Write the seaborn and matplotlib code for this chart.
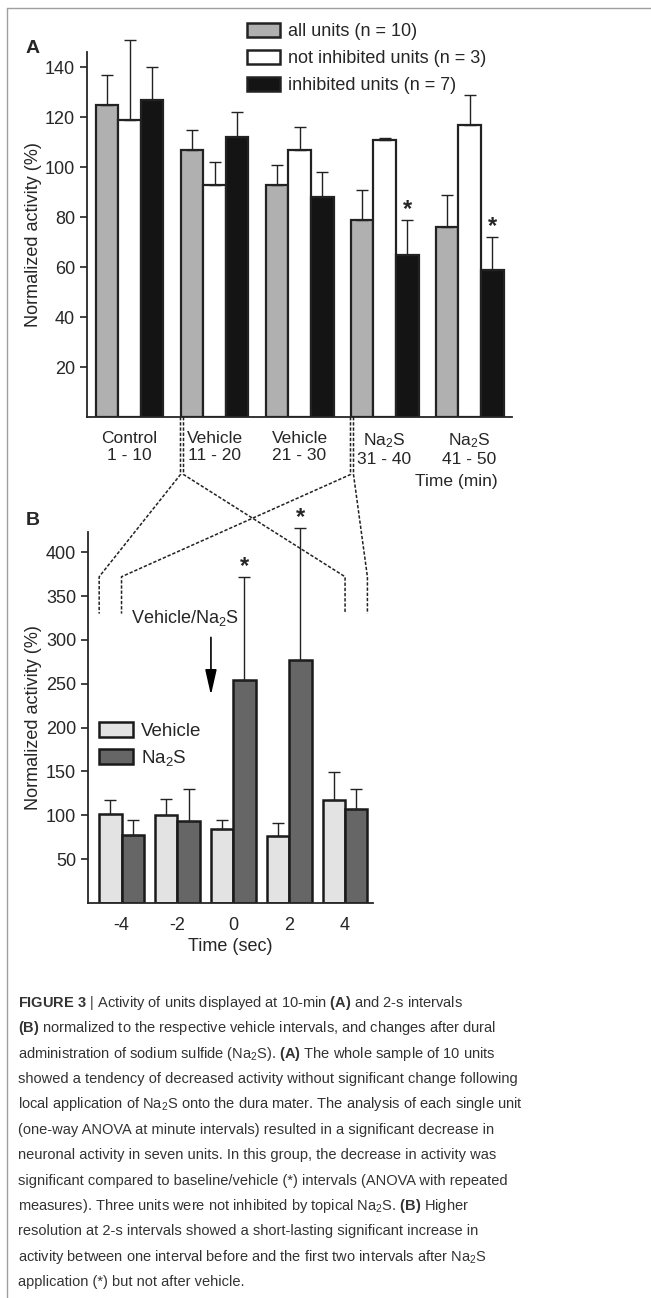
import numpy as np
import pandas as pd
import matplotlib
matplotlib.use("Agg")
import matplotlib.pyplot as plt
from matplotlib.lines import Line2D
from matplotlib.patches import Patch
import seaborn as sns

# =========================
# Panel A data (10-min intervals)
# =========================
periods = ["Control\n1 - 10", "Vehicle\n11 - 20", "Vehicle\n21 - 30",
           "Na$_2$S\n31 - 40", "Na$_2$S\n41 - 50"]
groups_a = ["all units (n = 10)", "not inhibited units (n = 3)", "inhibited units (n = 7)"]
all_units = [125, 107, 93, 79, 76]
all_units_err = [12, 8, 8, 12, 13]
not_inhib = [119, 93, 107, 111, 117]
not_inhib_err = [32, 9, 9, 0.6, 12]
inhib = [127, 112, 88, 65, 59]
inhib_err = [13, 10, 10, 14, 13]
sig_a = [False, False, False, True, True]   # marked on inhibited units

# =========================
# Panel B data (2-s intervals)
# =========================
times = ["-4", "-2", "0", "2", "4"]
groups_b = ["Vehicle", "Na$_2$S"]
vehicle = [101, 100, 84, 76, 117]
vehicle_err = [16, 19, 11, 15, 32]
na2s = [77, 94, 254, 277, 107]
na2s_err = [18, 36, 118, 151, 23]
sig_b = [False, False, True, True, False]   # marked on Na2S

caption_lines = [
    r"$\bf{FIGURE\ 3}$ | Activity of units displayed at 10-min $\bf{(A)}$ and 2-s intervals",
    r"$\bf{(B)}$ normalized to the respective vehicle intervals, and changes after dural",
    r"administration of sodium sulfide (Na$_2$S). $\bf{(A)}$ The whole sample of 10 units",
    "showed a tendency of decreased activity without significant change following",
    r"local application of Na$_2$S onto the dura mater. The analysis of each single unit",
    "(one-way ANOVA at minute intervals) resulted in a significant decrease in",
    "neuronal activity in seven units. In this group, the decrease in activity was",
    "significant compared to baseline/vehicle (*) intervals (ANOVA with repeated",
    r"measures). Three units were not inhibited by topical Na$_2$S. $\bf{(B)}$ Higher",
    "resolution at 2-s intervals showed a short-lasting significant increase in",
    r"activity between one interval before and the first two intervals after Na$_2$S",
    "application (*) but not after vehicle.",
]

# =========================
# Style
# =========================
sns.set_theme(style="ticks")
font = "Liberation Sans"
plt.rcParams["font.family"] = [font, "DejaVu Sans"]
plt.rcParams["mathtext.fontset"] = "custom"
plt.rcParams["mathtext.rm"] = font
plt.rcParams["mathtext.it"] = font + ":italic"
plt.rcParams["mathtext.bf"] = font + ":bold"
plt.rcParams["mathtext.default"] = "regular"
plt.rcParams["axes.linewidth"] = 1.3

W, H = 651, 1298
fig = plt.figure(figsize=(W / 100, H / 100), dpi=100)
axA = fig.add_axes([87 / W, 1 - 417 / H, 425 / W, 365 / H])
axB = fig.add_axes([88 / W, 1 - 903 / H, 285 / W, 371 / H])

FS = 12.5

# =========================
# Panel A
# =========================
df_a = pd.DataFrame({
    "period": periods * 3,
    "group": np.repeat(groups_a, len(periods)),
    "value": all_units + not_inhib + inhib,
})
colors_a = ["#b0b0b0", "#ffffff", "#141414"]
sns.barplot(data=df_a, x="period", y="value", hue="group", hue_order=groups_a,
            palette=colors_a, saturation=1, errorbar=None, width=0.8,
            edgecolor="#222222", linewidth=1.6, legend=False, ax=axA)


def add_errors(ax, containers, values, errors):
    for cont, vals, errs in zip(containers, values, errors):
        xs = [p.get_x() + p.get_width() / 2 for p in cont]
        eb = ax.errorbar(xs, vals, yerr=[np.zeros(len(vals)), errs], fmt="none",
                         ecolor="#222222", elinewidth=1.0, capsize=4, capthick=1.0, zorder=1)
        for art in list(eb.lines[1]) + list(eb.lines[2]):
            art.set_clip_on(False)


def add_stars(ax, cont, values, errors, flags):
    for p, v, e, s in zip(cont, values, errors, flags):
        if s:
            ax.annotate("*", (p.get_x() + p.get_width() / 2, v + e), xytext=(0, -1),
                        textcoords="offset points", ha="center", va="bottom",
                        fontsize=17, fontweight="bold", annotation_clip=False)


add_errors(axA, axA.containers, [all_units, not_inhib, inhib],
           [all_units_err, not_inhib_err, inhib_err])
add_stars(axA, axA.containers[2], inhib, inhib_err, sig_a)

axA.set_xlim(-0.5, 4.5)
axA.set_ylim(0, 146)
axA.set_yticks([20, 40, 60, 80, 100, 120, 140])
axA.set_xlabel("")
axA.set_ylabel("Normalized activity (%)", fontsize=FS + 0.5, labelpad=2)
axA.tick_params(axis="y", labelsize=FS + 0.5, length=5, width=1.2, color="#222222")
axA.tick_params(axis="x", labelsize=FS, length=0, pad=10)
sns.despine(ax=axA)
axA.text((498 - 87) / 425, -0.178, "Time (min)", transform=axA.transAxes,
         ha="right", va="center", fontsize=FS)
axA.text(-0.127, 1.01, "A", transform=axA.transAxes, fontsize=14,
         fontweight="bold", ha="center", va="center")

handles_a = [Patch(facecolor=c, edgecolor="#222222", linewidth=1.8) for c in colors_a]
axA.legend(handles_a, groups_a, loc="upper left", bbox_to_anchor=(247 / W, 1 - 23 / H),
           bbox_transform=fig.transFigure, frameon=False, fontsize=FS + 0.5,
           borderpad=0, borderaxespad=0, handlelength=1.85, handleheight=0.8,
           handletextpad=0.4, labelspacing=0.55)

# =========================
# Panel B
# =========================
df_b = pd.DataFrame({
    "time": times * 2,
    "group": np.repeat(groups_b, len(times)),
    "value": vehicle + na2s,
})
colors_b = ["#e3e3e3", "#666666"]
sns.barplot(data=df_b, x="time", y="value", hue="group", hue_order=groups_b,
            palette=colors_b, saturation=1, errorbar=None, width=0.8,
            edgecolor="#1a1a1a", linewidth=1.8, legend=False, ax=axB)

add_errors(axB, axB.containers, [vehicle, na2s], [vehicle_err, na2s_err])
add_stars(axB, axB.containers[1], na2s, na2s_err, sig_b)

axB.set_xlim(-0.6, 4.5)
axB.set_ylim(0, 423)
axB.set_yticks([50, 100, 150, 200, 250, 300, 350, 400])
axB.set_xlabel("Time (sec)", fontsize=FS + 0.5, labelpad=3)
axB.set_ylabel("Normalized activity (%)", fontsize=FS + 0.5, labelpad=3)
axB.tick_params(axis="y", labelsize=FS + 0.5, length=5, width=1.2, color="#222222")
axB.tick_params(axis="x", labelsize=FS + 0.5, length=0, pad=10)
sns.despine(ax=axB)
axB.text(-0.195, 1.03, "B", transform=axB.transAxes, fontsize=14,
         fontweight="bold", ha="center", va="center")

handles_b = [Patch(facecolor=c, edgecolor="#1a1a1a", linewidth=1.8) for c in colors_b]
axB.legend(handles_b, groups_b, loc="upper left", bbox_to_anchor=(99 / W, 1 - 722 / H),
           bbox_transform=fig.transFigure, frameon=False, fontsize=FS + 1,
           borderpad=0, borderaxespad=0, handlelength=1.8, handleheight=0.85,
           handletextpad=0.45, labelspacing=0.45)

# Vehicle/Na2S application arrow
arrow_x = axB.containers[0][2].get_x()
axB.annotate("", xy=(arrow_x, 234), xytext=(arrow_x, 306),
             arrowprops=dict(arrowstyle="-|>,head_width=0.25,head_length=1.1",
                             color="black", lw=1.2, mutation_scale=14))
axB.text(arrow_x - 0.47, 325, "Vehicle/Na$_2$S", ha="center", va="center", fontsize=FS + 0.5)

# =========================
# Dotted connectors A -> B
# =========================
to_fig = fig.transFigure.inverted()


def fig_pt(ax, x, y, dx=0.0):
    px = ax.transData.transform((x, y)) + np.array([dx, 0.0])
    return to_fig.transform(px)


veh_start = axA.containers[0][1].get_x()   # start of Vehicle 11-20 group
na_start = axA.containers[0][3].get_x()    # start of Na2S 31-40 group
b_veh_left = axB.containers[0][0].get_x()
b_veh_right = axB.containers[0][4].get_x() + axB.containers[0][4].get_width()
b_na_left = axB.containers[1][0].get_x()
b_na_right = axB.containers[1][4].get_x() + axB.containers[1][4].get_width()

paths = [
    (veh_start, 0.0, b_veh_left),
    (veh_start, 3.0, b_veh_right),
    (na_start, 0.0, b_na_left),
    (na_start, 3.0, b_na_right),
]
for xa, dx, xb in paths:
    pts = np.array([fig_pt(axA, xa, 0, dx), fig_pt(axA, xa, -23, dx),
                    fig_pt(axB, xb, 372), fig_pt(axB, xb, 330)])
    fig.add_artist(Line2D(pts[:, 0], pts[:, 1], color="#222222", lw=1.1,
                          linestyle=(0, (2.2, 1.2)), transform=fig.transFigure))

# figure frame
fig.add_artist(Line2D([7 / W, 1], [1 - 8 / H, 1 - 8 / H], color="#a0a0a0", lw=1.0,
                      transform=fig.transFigure))
fig.add_artist(Line2D([7 / W, 7 / W], [0, 1 - 8 / H], color="#a0a0a0", lw=1.0,
                      transform=fig.transFigure))

# =========================
# Caption
# =========================
for i, line in enumerate(caption_lines):
    fig.text(18 / W, 1 - (1003 + i * 25.36) / H, line, ha="left", va="center",
             fontsize=10.5, color="#333333")

fig.savefig("out.png", dpi=100)
